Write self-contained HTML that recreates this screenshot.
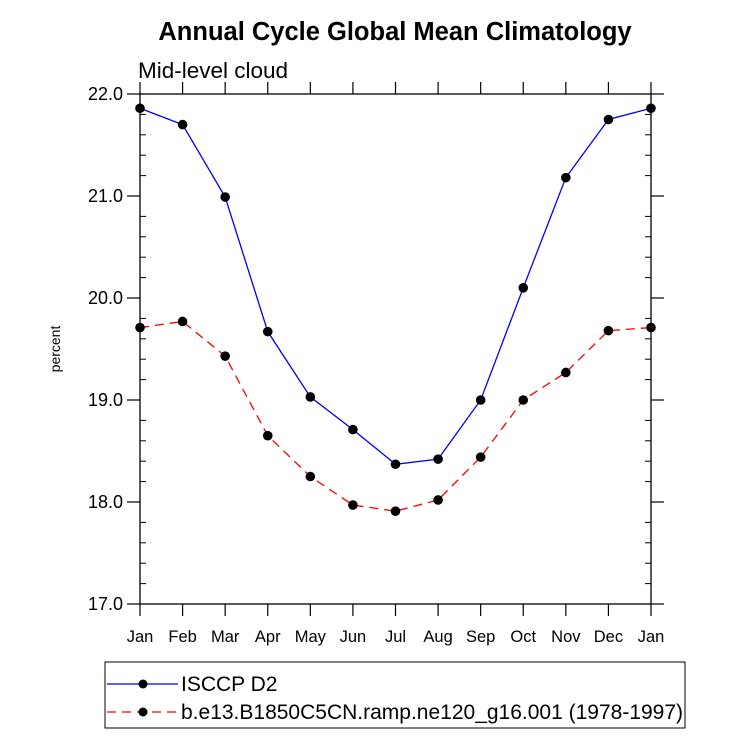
<!DOCTYPE html>
<html><head><meta charset="utf-8"><style>body{margin:0;background:#fff}svg{display:block}text{font-family:"Liberation Sans",sans-serif}</style></head>
<body>
<svg id="c" width="733" height="737">
<text x="395" y="40" text-anchor="middle" font-size="25.5" font-weight="bold">Annual Cycle Global Mean Climatology</text>
<text x="138" y="78" font-size="22.5">Mid-level cloud</text>
<text transform="translate(60,349) rotate(-90)" text-anchor="middle" font-size="14">percent</text>
<g id="ax"></g><g id="ser"></g>
<rect x="105" y="662" width="580" height="66" fill="none" stroke="#000" stroke-width="1"/>
<line x1="107" y1="684" x2="178" y2="684" stroke="#00f" stroke-width="1.2"/>
<circle cx="143" cy="684" r="4.5"/>
<text x="181" y="691" font-size="21">ISCCP D2</text>
<line x1="107" y1="712" x2="178" y2="712" stroke="#f00" stroke-width="1.2" stroke-dasharray="9,6"/>
<circle cx="143" cy="712" r="4.5"/>
<text x="181" y="719" font-size="21">b.e13.B1850C5CN.ramp.ne120_g16.001 (1978-1997)</text>
</svg>
<script>
const months=["Jan","Feb","Mar","Apr","May","Jun","Jul","Aug","Sep","Oct","Nov","Dec","Jan"];
const isccp=[21.86,21.70,20.99,19.67,19.03,18.71,18.37,18.42,19.00,20.10,21.18,21.75,21.86];
const model=[19.71,19.77,19.43,18.65,18.25,17.97,17.91,18.02,18.44,19.00,19.27,19.68,19.71];
const yTicks=["17.0","18.0","19.0","20.0","21.0","22.0"];
const NS="http://www.w3.org/2000/svg";
const L=140,R=651,T=94,B=604,ymin=17,ymax=22;
const xs=i=>L+(R-L)*i/(months.length-1);
const ys=v=>B-(B-T)*(v-ymin)/(ymax-ymin);
function mk(p,t,a){const e=document.createElementNS(NS,t);for(const k in a)e.setAttribute(k,a[k]);p.appendChild(e);return e;}
const ax=document.getElementById('ax'),ser=document.getElementById('ser');
const fr=mk(ax,'rect',{x:L,y:T,width:R-L,height:B-T,fill:'none',stroke:'#000','stroke-width':1.3});


months.forEach((m,i)=>{const x=xs(i);
 const t1=mk(ax,'line',{x1:x,y1:B,x2:x,y2:B+12,stroke:'#000','stroke-width':1.2});
 
 
 const t2=mk(ax,'line',{x1:x,y1:T,x2:x,y2:T-12,stroke:'#000','stroke-width':1.2});
 
 
 const tx=mk(ax,'text',{x:x,y:642,'text-anchor':'middle','font-size':16.5});tx.textContent=m;
 
 
});
yTicks.forEach(s=>{const y=ys(parseFloat(s));
 const a=mk(ax,'line',{x1:L-13,y1:y,x2:L,y2:y,stroke:'#000','stroke-width':1.2});
 
 
 const b=mk(ax,'line',{x1:R,y1:y,x2:R+13,y2:y,stroke:'#000','stroke-width':1.2});
 
 
 const tx=mk(ax,'text',{x:L-17,y:y+6,'text-anchor':'end','font-size':18});tx.textContent=s;
 
 
});
for(let v=17.2;v<22;v+=0.2){if(Math.abs(v-Math.round(v))<0.01)continue;const y=ys(v);
 const a=mk(ax,'line',{x1:L,y1:y,x2:L+6,y2:y,stroke:'#000','stroke-width':1});
 
 
 const b=mk(ax,'line',{x1:R-6,y1:y,x2:R,y2:y,stroke:'#000','stroke-width':1});
 
 
}
function series(d,col,dash,name){
 const pl=mk(ser,'polyline',{points:d.map((v,i)=>xs(i)+','+ys(v)).join(' '),fill:'none',stroke:col,'stroke-width':1.3,'stroke-dasharray':dash});
 
 
 d.forEach((v,i)=>{const c=mk(ser,'circle',{cx:xs(i),cy:ys(v),r:4.8,fill:'#000'});
  
  });
}
series(isccp,'#00f','none','isccp');
series(model,'#f00','9,6','model');
</script>
</body></html>
